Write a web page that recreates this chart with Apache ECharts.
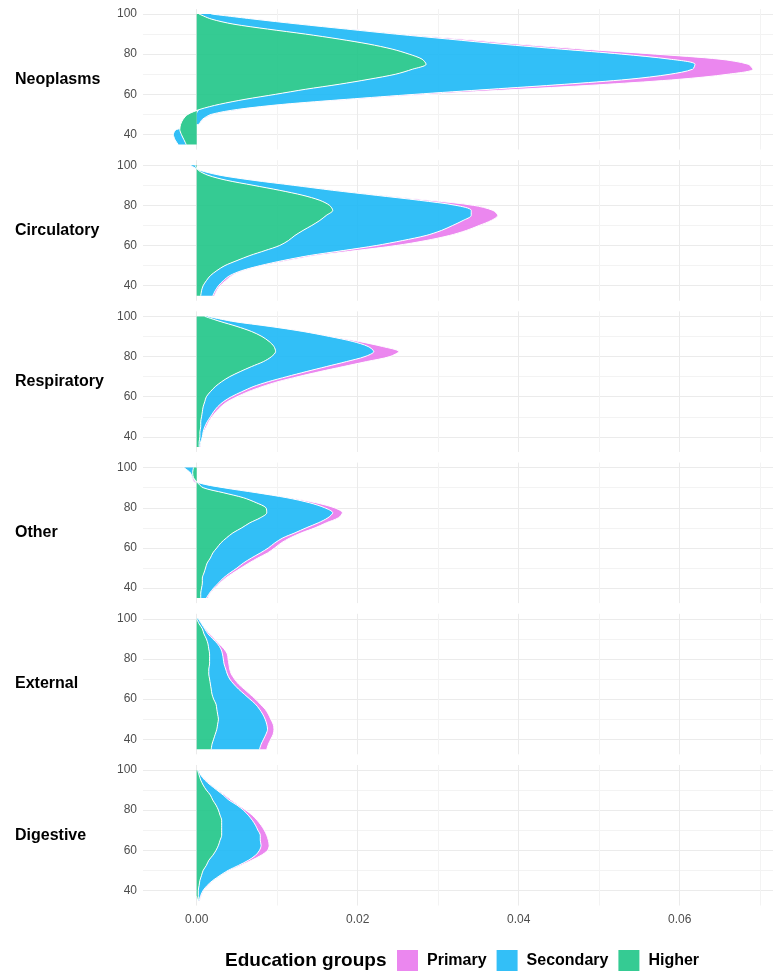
<!DOCTYPE html>
<html>
<head>
<meta charset="utf-8">
<title>Education groups</title>
<script src="https://cdn.jsdelivr.net/npm/echarts@6/dist/echarts.min.js"></script>
<style>
    html, body { margin: 0; padding: 0; background: #fff; }
    #chart { width: 773px; height: 974px; }
</style>
</head>
<body>
<div id="chart"></div>
<script>
// age grid (top of each panel = 100)
var ages = [100, 97.5, 95, 92.5, 90, 87.5, 85, 82.5, 80, 77.5, 75, 72.5, 70, 67.5, 65, 62.5, 60, 57.5, 55, 52.5, 50, 47.5, 45, 42.5, 40, 37.5, 35];
var causes = ['Neoplasms', 'Circulatory', 'Respiratory', 'Other', 'External', 'Digestive'];
var groups = ['Primary', 'Secondary', 'Higher'];
var ageTicks = ['40', '60', '80', '100'];
var xTicks = [0, 0.02, 0.04, 0.06];

var neoplasmsHigher = [0.0003, 0.0018, 0.0045, 0.0088, 0.0135, 0.0177, 0.0214, 0.0243, 0.0264, 0.0280, 0.0285, 0.0268, 0.0247, 0.0214, 0.0177, 0.0135, 0.0098, 0.0060, 0.0028, 0.0004, -0.0011, -0.0017, -0.0020, -0.0021, -0.0019, -0.0016, -0.0013];
var neoplasmsSecondary = [0.0015, 0.0052, 0.0081, 0.0098, 0.0112, 0.0136, 0.0164, 0.0210, 0.0264, 0.0308, 0.0334, 0.0348, 0.0341, 0.0323, 0.0280, 0.0229, 0.0173, 0.0126, 0.0079, 0.0047, 0.0018, 0.0007, 0.0002, -0.0004, -0.0010, -0.0011, -0.0010];
var neoplasmsPrimary = [0.0002, 0.0002, 0.0003, 0.0004, 0.0008, 0.0017, 0.0022, 0.0027, 0.0042, 0.0062, 0.0066, 0.0075, 0.0072, 0.0063, 0.0053, 0.0036, 0.0019, 0.0012, 0.0006, 0.0003, 0.0002, 0.0001, 0, 0, 0, 0, 0];

var circulatoryHigher = [-0.0002, 0.0002, 0.0014, 0.0037, 0.0070, 0.0103, 0.0132, 0.0153, 0.0165, 0.0169, 0.0161, 0.0153, 0.0143, 0.0132, 0.0122, 0.0114, 0.0103, 0.0085, 0.0066, 0.0050, 0.0035, 0.0025, 0.0017, 0.0012, 0.0008, 0.0006, 0.0005];
var circulatorySecondary = [-0.0006, 0.0002, 0.0015, 0.0033, 0.0050, 0.0066, 0.0091, 0.0124, 0.0157, 0.0172, 0.0180, 0.0178, 0.0175, 0.0172, 0.0163, 0.0142, 0.0120, 0.0097, 0.0074, 0.0057, 0.0044, 0.0031, 0.0024, 0.0021, 0.0019, 0.0017, 0.0015];
var circulatoryPrimary = [0, 0, 0.0001, 0.0002, 0.0003, 0.0004, 0.0006, 0.0013, 0.0022, 0.0027, 0.0033, 0.0035, 0.0033, 0.0031, 0.0029, 0.0029, 0.0025, 0.0016, 0.0009, 0.0007, 0.0004, 0.0003, 0.0003, 0.0003, 0.0002, 0.0002, 0.0002];

var respiratoryHigher = [0.0010, 0.0029, 0.0050, 0.0068, 0.0081, 0.0090, 0.0096, 0.0098, 0.0093, 0.0083, 0.0068, 0.0054, 0.0041, 0.0031, 0.0023, 0.0017, 0.0012, 0.0010, 0.0008, 0.0007, 0.0006, 0.0005, 0.0005, 0.0004, 0.0004, 0.0003, 0.0003];
var respiratorySecondary = [0.0004, 0.0016, 0.0041, 0.0064, 0.0084, 0.0104, 0.0117, 0.0122, 0.0116, 0.0103, 0.0093, 0.0082, 0.0071, 0.0058, 0.0047, 0.0039, 0.0031, 0.0023, 0.0018, 0.0014, 0.0011, 0.0008, 0.0005, 0.0004, 0.0003, 0.0002, 0.0001];
var respiratoryPrimary = [0, 0.0001, 0.0002, 0.0003, 0.0004, 0.0008, 0.0018, 0.0031, 0.0031, 0.0025, 0.0021, 0.0017, 0.0014, 0.0012, 0.0011, 0.0008, 0.0007, 0.0005, 0.0004, 0.0003, 0.0002, 0.0002, 0.0002, 0.0001, 0, 0, 0.0001];

var otherHigher = [-0.0004, -0.0005, -0.0004, 0.0001, 0.0008, 0.0033, 0.0058, 0.0074, 0.0086, 0.0087, 0.0079, 0.0066, 0.0056, 0.0045, 0.0037, 0.0030, 0.0025, 0.0020, 0.0017, 0.0013, 0.0011, 0.0009, 0.0007, 0.0007, 0.0006, 0.0005, 0.0005];
var otherSecondary = [-0.0012, -0.0003, -0.0001, 0.0001, 0.0025, 0.0041, 0.0054, 0.0066, 0.0073, 0.0082, 0.0084, 0.0085, 0.0080, 0.0077, 0.0070, 0.0067, 0.0064, 0.0059, 0.0051, 0.0045, 0.0039, 0.0032, 0.0026, 0.0020, 0.0015, 0.0011, 0.0007];
var otherPrimary = [0, 0, -0.0001, -0.0002, 0.0001, 0.0002, 0.0004, 0.0008, 0.0012, 0.0012, 0.0013, 0.0010, 0.0011, 0.0008, 0.0009, 0.0008, 0.0008, 0.0009, 0.0008, 0.0007, 0.0005, 0.0004, 0.0003, 0.0002, 0.0002, 0.0001, 0.0002];

var externalHigher = [0, 0.0003, 0.0007, 0.0009, 0.0012, 0.0014, 0.0015, 0.0016, 0.0016, 0.0016, 0.0015, 0.0015, 0.0016, 0.0017, 0.0018, 0.0019, 0.0021, 0.0024, 0.0025, 0.0026, 0.0027, 0.0026, 0.0025, 0.0023, 0.0021, 0.0019, 0.0018];
var externalSecondary = [0.0002, 0.0003, 0.0003, 0.0005, 0.0008, 0.0012, 0.0015, 0.0016, 0.0017, 0.0018, 0.0021, 0.0023, 0.0025, 0.0029, 0.0034, 0.0040, 0.0045, 0.0049, 0.0053, 0.0056, 0.0058, 0.0061, 0.0063, 0.0063, 0.0062, 0.0061, 0.0060];
var externalPrimary = [0, 0, 0.0001, 0.0002, 0.0002, 0.0002, 0.0004, 0.0006, 0.0006, 0.0006, 0.0005, 0.0005, 0.0006, 0.0006, 0.0007, 0.0007, 0.0007, 0.0006, 0.0007, 0.0007, 0.0007, 0.0008, 0.0008, 0.0009, 0.0009, 0.0009, 0.0009];

var digestiveHigher = [0.0001, 0.0003, 0.0005, 0.0008, 0.0012, 0.0017, 0.0020, 0.0024, 0.0027, 0.0029, 0.0031, 0.0031, 0.0031, 0.0031, 0.0029, 0.0027, 0.0024, 0.0020, 0.0015, 0.0012, 0.0008, 0.0006, 0.0004, 0.0003, 0.0002, 0.0002, 0.0002];
var digestiveSecondary = [0.0001, 0.0002, 0.0005, 0.0009, 0.0013, 0.0016, 0.0020, 0.0026, 0.0031, 0.0035, 0.0038, 0.0042, 0.0045, 0.0048, 0.0050, 0.0053, 0.0054, 0.0053, 0.0049, 0.0040, 0.0031, 0.0023, 0.0016, 0.0010, 0.0006, 0.0003, 0.0001];
var digestivePrimary = [0, 0, 0.0001, 0.0001, 0.0001, 0.0002, 0.0003, 0.0002, 0.0003, 0.0005, 0.0006, 0.0007, 0.0008, 0.0008, 0.0010, 0.0010, 0.0010, 0.0007, 0.0004, 0.0003, 0.0002, 0.0001, 0.0001, 0.0001, 0.0001, 0.0001, 0.0001];

var values = {
    Neoplasms: { Higher: neoplasmsHigher, Secondary: neoplasmsSecondary, Primary: neoplasmsPrimary },
    Circulatory: { Higher: circulatoryHigher, Secondary: circulatorySecondary, Primary: circulatoryPrimary },
    Respiratory: { Higher: respiratoryHigher, Secondary: respiratorySecondary, Primary: respiratoryPrimary },
    Other: { Higher: otherHigher, Secondary: otherSecondary, Primary: otherPrimary },
    External: { Higher: externalHigher, Secondary: externalSecondary, Primary: externalPrimary },
    Digestive: { Higher: digestiveHigher, Secondary: digestiveSecondary, Primary: digestivePrimary }
};

var fills = { Primary: '#E97AED', Secondary: '#1CB8F6', Higher: '#1FC587' };
var swatch = { Primary: '#EB87EF', Secondary: '#33BFF7', Higher: '#35CB93' };
var font = '"Liberation Sans", Arial, Helvetica, sans-serif';

// panel geometry
var PANEL_TOP = 8.98;
var PANEL_STEP = 151.2;
var PANEL_H = 140.56;

// one empty category on each end gives the panel some air above 100 and below 35
var cats = ['102.5'].concat(ages.map(String), ['32.5']);

function pad(arr) {
    return ['-'].concat(arr, ['-']);
}

function buildOption() {
    var grids = [], xAxes = [], yAxes = [], series = [], texts = [];

    causes.forEach(function(cause, i) {
        var top = PANEL_TOP + PANEL_STEP * i;
        grids.push({ left: 143, top: top, width: 630, height: PANEL_H });

        xAxes.push({
            gridIndex: i,
            type: 'value',
            min: -0.006671,
            max: 0.07159,
            splitNumber: 8,
            axisLine: { show: false },
            axisTick: { show: false },
            axisLabel: {
                show: i === causes.length - 1,
                showMinLabel: false,
                showMaxLabel: false,
                margin: 8,
                color: '#4D4D4D',
                fontSize: 12,
                fontFamily: font,
                formatter: function(v) {
                    var hit = xTicks.filter(function(t) { return Math.abs(t - v) < 1e-9; });
                    return hit.length ? v.toFixed(2) : '';
                }
            },
            splitLine: {
                show: true,
                showMinLine: false,
                showMaxLine: false,
                lineStyle: { color: ['#EBEBEB', '#F3F3F3'], width: 1 }
            }
        });

        yAxes.push({
            gridIndex: i,
            type: 'category',
            data: cats,
            inverse: true,
            boundaryGap: false,
            axisLine: { show: false },
            axisTick: { show: false },
            axisLabel: {
                interval: function(idx, val) { return ageTicks.indexOf(val) >= 0; },
                margin: 6,
                color: '#4D4D4D',
                fontSize: 12,
                fontFamily: font
            },
            splitLine: {
                show: true,
                interval: function(idx, val) { return Number(val) % 10 === 0; },
                lineStyle: { color: ['#EBEBEB', '#F3F3F3'], width: 1 }
            }
        });

        // Higher sits on zero, Secondary on top of it, Primary outermost
        ['Higher', 'Secondary', 'Primary'].forEach(function(g, k) {
            series.push({
                name: g,
                type: 'line',
                xAxisIndex: i,
                yAxisIndex: i,
                stack: 'st' + i,
                data: pad(values[cause][g]),
                smooth: 0.3,
                symbol: 'none',
                z: 5 - k,
                itemStyle: { color: swatch[g] },
                lineStyle: { color: '#fff', width: 1 },
                areaStyle: { color: fills[g], opacity: 0.9 },
                emphasis: { disabled: true }
            });
        });

        texts.push({
            type: 'text',
            x: 15,
            y: top + PANEL_H / 2,
            style: {
                text: cause,
                font: 'bold 16px ' + font,
                fill: '#000',
                verticalAlign: 'middle',
                textVerticalAlign: 'middle'
            }
        });
    });

    texts.push({
        type: 'text',
        x: 225,
        y: 961,
        style: {
            text: 'Education groups',
            font: 'bold 19px ' + font,
            fill: '#000',
            verticalAlign: 'middle',
            textVerticalAlign: 'middle'
        }
    });

    return {
        animation: false,
        backgroundColor: '#fff',
        grid: grids,
        xAxis: xAxes,
        yAxis: yAxes,
        series: series,
        graphic: texts,
        legend: {
            left: 392,
            top: 945,
            icon: 'rect',
            itemWidth: 21,
            itemHeight: 21,
            itemGap: 10,
            data: groups.map(function(g) {
                return { name: g, itemStyle: { color: swatch[g], borderWidth: 0 } };
            }),
            textStyle: {
                fontFamily: font,
                fontSize: 16,
                fontWeight: 'bold',
                color: '#000',
                padding: [0, 0, 0, 4]
            }
        }
    };
}

var myChart = echarts.init(document.getElementById('chart'));
myChart.setOption(buildOption());
</script>
</body>
</html>
